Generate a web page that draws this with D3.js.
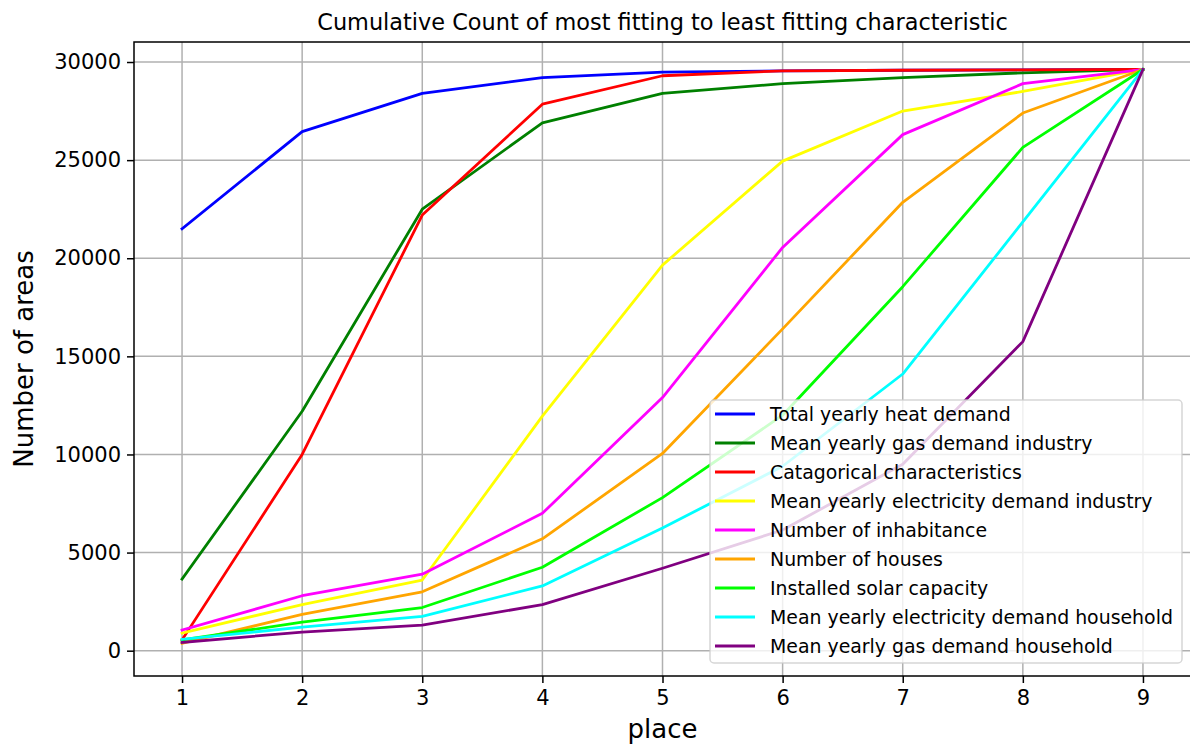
<!DOCTYPE html>
<html>
<head>
<meta charset="utf-8">
<script src="https://cdn.jsdelivr.net/npm/d3@7"></script>
<style>
body { margin: 0; background: #fff; }
text { font-family: 'DejaVu Sans', sans-serif; fill: #000; }
</style>
</head>
<body>
<div id="chart"></div>
<script>

// places on the x axis
var places = [1, 2, 3, 4, 5, 6, 7, 8, 9];
var yTicks = [0, 5000, 10000, 15000, 20000, 25000, 30000];

var names = [
    'Total yearly heat demand',
    'Mean yearly gas demand industry',
    'Catagorical characteristics',
    'Mean yearly electricity demand industry',
    'Number of inhabitance',
    'Number of houses',
    'Installed solar capacity',
    'Mean yearly electricity demand household',
    'Mean yearly gas demand household'
];

var colors = ['blue', 'green', 'red', 'yellow', 'magenta', 'orange', 'lime', 'cyan', 'purple'];

// cumulative counts
var heatDemand   = [21500, 26450, 28400, 29200, 29480, 29550, 29580, 29600, 29620];
var gasIndustry  = [3650, 12200, 22500, 26900, 28400, 28900, 29200, 29450, 29620];
var categorical  = [550, 10000, 22200, 27850, 29300, 29550, 29580, 29600, 29620];
var elecIndustry = [900, 2350, 3600, 11950, 19650, 24950, 27500, 28500, 29620];
var inhabitants  = [1050, 2800, 3900, 7000, 12900, 20550, 26300, 28900, 29620];
var houses       = [380, 1850, 3000, 5700, 10050, 16400, 22850, 27400, 29620];
var solar        = [550, 1450, 2200, 4250, 7800, 12000, 18550, 25650, 29620];
var elecHouse    = [580, 1200, 1750, 3300, 6250, 9400, 14100, 21850, 29620];
var gasHouse     = [420, 950, 1300, 2350, 4200, 6150, 9500, 15750, 29620];

var series = [heatDemand, gasIndustry, categorical, elecIndustry, inhabitants,
              houses, solar, elecHouse, gasHouse];

var W = 1190, H = 744;
var margin = { top: 42, left: 134, bottom: 68, right: -1 },
    width = W - margin.left - margin.right,
    height = H - margin.top - margin.bottom;

var svg = d3.select('#chart').append('svg')
    .attr('width', W)
    .attr('height', H)
    .append('g')
    .attr('transform', 'translate(' + margin.left + ', ' + margin.top + ')');

var x = d3.scaleLinear().domain([0.6, 9.4]).range([0, width]);
var y = d3.scaleLinear().domain([-1290, 31020]).range([height, 0]);

// grid
svg.append('g').selectAll('line')
    .data(places).enter().append('line')
    .attr('x1', d => x(d)).attr('x2', d => x(d))
    .attr('y1', 0).attr('y2', height)
    .attr('stroke', '#b0b0b0').attr('stroke-width', 1.5);

svg.append('g').selectAll('line')
    .data(yTicks).enter().append('line')
    .attr('x1', 0).attr('x2', width)
    .attr('y1', d => y(d)).attr('y2', d => y(d))
    .attr('stroke', '#b0b0b0').attr('stroke-width', 1.5);

// lines
var line = d3.line()
    .x((d, i) => x(places[i]))
    .y(d => y(d));

svg.append('g').selectAll('path')
    .data(series).enter().append('path')
    .attr('d', line)
    .attr('fill', 'none')
    .attr('stroke', (d, i) => colors[i])
    .attr('stroke-width', 2.8)
    .attr('stroke-linejoin', 'round')
    .attr('stroke-linecap', 'square');

// axes
var xAxis = d3.axisBottom(x).tickValues(places).tickSize(7).tickPadding(5);
var yAxis = d3.axisLeft(y).tickValues(yTicks).tickFormat(d3.format('d')).tickSize(7).tickPadding(6);

var gx = svg.append('g')
    .attr('transform', 'translate(0,' + height + ')')
    .call(xAxis);
var gy = svg.append('g').call(yAxis);

[gx, gy].forEach(g => {
    g.select('.domain').remove();
    g.selectAll('line').attr('stroke', '#000').attr('stroke-width', 1.5);
    g.selectAll('text')
        .style('font-family', "'DejaVu Sans', sans-serif")
        .style('font-size', '21px')
        .attr('fill', '#000');
});
gx.selectAll('text').attr('dy', '0.8em');

svg.append('rect')
    .attr('width', width)
    .attr('height', height)
    .attr('fill', 'none')
    .attr('stroke', '#000')
    .attr('stroke-width', 1.5);

// title and labels
svg.append('text')
    .attr('x', width / 2)
    .attr('y', -12)
    .attr('text-anchor', 'middle')
    .style('font-size', '22.4px')
    .text('Cumulative Count of most fitting to least fitting characteristic');

svg.append('text')
    .attr('x', width / 2)
    .attr('y', height + 62)
    .attr('text-anchor', 'middle')
    .style('font-size', '26px')
    .text('place');

svg.append('text')
    .attr('transform', 'translate(' + (33 - margin.left) + ',' + (height / 2) + ') rotate(-90)')
    .attr('text-anchor', 'middle')
    .style('font-size', '26px')
    .text('Number of areas');

// legend
var lg = svg.append('g')
    .attr('transform', 'translate(' + (710 - margin.left) + ',' + (400 - margin.top) + ')');

lg.append('rect')
    .attr('width', 472)
    .attr('height', 263)
    .attr('rx', 4)
    .attr('fill', 'rgba(255,255,255,0.8)')
    .attr('stroke', 'rgba(204,204,204,0.8)')
    .attr('stroke-width', 1.5);

var rows = lg.selectAll('.row')
    .data(names).enter().append('g')
    .attr('class', 'row')
    .attr('transform', (d, i) => 'translate(0,' + (14 + i * 29) + ')');

rows.append('line')
    .attr('x1', 5).attr('x2', 45)
    .attr('stroke', (d, i) => colors[i])
    .attr('stroke-width', 2.8);

rows.append('text')
    .attr('x', 60)
    .attr('dy', '0.35em')
    .style('font-size', '18.9px')
    .attr('fill', '#222')
    .text(d => d);

</script>
</body>
</html>
